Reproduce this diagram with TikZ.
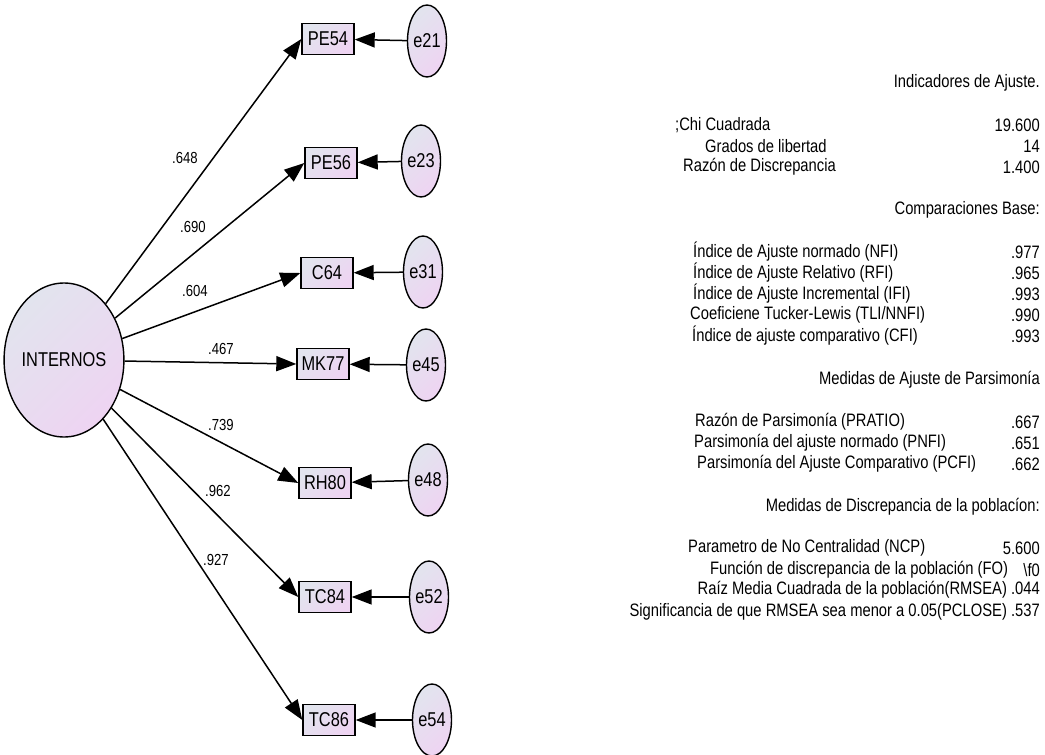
\documentclass[tikz,border=0pt]{standalone}
\usepackage{fontspec}
\setmainfont{Liberation Sans}[FakeStretch=0.82]
\usepackage{xcolor}
\usepackage{tikz}
\usetikzlibrary{arrows.meta, shapes.geometric}

\definecolor{semA}{RGB}{226,228,238}
\definecolor{semB}{RGB}{238,212,242}

\begin{document}
\begin{tikzpicture}[x=1pt, y=-1pt, >={Triangle[length=20pt, width=15pt]},
  lat/.style = {ellipse, draw, line width=1.4pt, inner sep=0pt,
                minimum width=108, minimum height=154,
                top color=semA, bottom color=semB, shading angle=45,
                font=\fontsize{20}{22}\selectfont},
  obs/.style = {rectangle, draw, line width=1.4pt, inner sep=0pt,
                minimum width=52, minimum height=31,
                top color=semA, bottom color=semB, shading angle=45,
                font=\fontsize{20}{22}\selectfont},
  err/.style = {ellipse, draw, line width=1.4pt, inner sep=0pt,
                minimum width=39, minimum height=72,
                top color=semA, bottom color=semB, shading angle=45,
                font=\fontsize{20}{22}\selectfont},
  lbl/.style = {inner sep=0pt, font=\fontsize{16}{18}\selectfont},
  row/.style = {inner sep=0pt, anchor=west, font=\fontsize{18}{21}\selectfont},
  val/.style = {inner sep=0pt, anchor=east, font=\fontsize{18}{21}\selectfont},
  arr/.style = {->, line width=1.5pt}
]
\useasboundingbox (0,0) rectangle (1045,755);

%% --- Latent factor ---
\node[lat] (internos) at (64,360) {INTERNOS};

%% --- Observed indicators ---
\node[obs] (pe54) at (328,39)  {PE54};
\node[obs] (pe56) at (331,163) {PE56};
\node[obs] (c64)  at (327,273) {C64};
\node[obs] (mk77) at (323,364) {MK77};
\node[obs] (rh80) at (325,483) {RH80};
\node[obs] (tc84) at (325,597) {TC84};
\node[obs] (tc86) at (329,720) {TC86};

%% --- Error terms ---
\node[err] (e21) at (427,41)  {e21};
\node[err] (e23) at (421,161) {e23};
\node[err] (e31) at (423,272) {e31};
\node[err] (e45) at (426,365) {e45};
\node[err] (e48) at (428,480) {e48};
\node[err] (e52) at (429,597) {e52};
\node[err] (e54) at (432,720) {e54};

%% --- Loadings ---
\draw[arr] (internos) -- (pe54.west);
\draw[arr] (internos) -- (pe56.west);
\draw[arr] (internos) -- (c64.west);
\draw[arr] (internos) -- (mk77.west);
\draw[arr] (internos) -- (rh80.west);
\draw[arr] (internos) -- (tc84.west);
\draw[arr] (internos) -- (tc86.west);

\node[lbl] (l648) at (185,158) {.648};
\node[lbl] (l690) at (193,227) {.690};
\node[lbl] (l604) at (195,291) {.604};
\node[lbl] (l467) at (221,349) {.467};
\node[lbl] (l739) at (221,425) {.739};
\node[lbl] (l962) at (218,491) {.962};
\node[lbl] (l927) at (216,560) {.927};

%% --- Error paths ---
\draw[arr] (e21) -- (pe54);
\draw[arr] (e23) -- (pe56);
\draw[arr] (e31) -- (c64);
\draw[arr] (e45) -- (mk77);
\draw[arr] (e48) -- (rh80);
\draw[arr] (e52) -- (tc84);
\draw[arr] (e54) -- (tc86);

%% --- Fit indices ---
\node[val] (hdrAjuste) at (1040,83) {Indicadores de Ajuste.};
\node[row] (chi)   at (675,125) {;Chi Cuadrada};
\node[val] (chiV)  at (1040,125) {19.600};
\node[row] (gl)    at (705,146) {Grados de libertad};
\node[val] (glV)   at (1040,146) {14};
\node[row] (rd)    at (683,167) {Razón de Discrepancia};
\node[val] (rdV)   at (1040,167) {1.400};

\node[val] (hdrBase) at (1040,210) {Comparaciones Base:};
\node[row] (nfi)   at (693,252) {Índice de Ajuste normado (NFI)};
\node[val] (nfiV)  at (1040,252) {.977};
\node[row] (rfi)   at (693,273) {Índice de Ajuste Relativo (RFI)};
\node[val] (rfiV)  at (1040,273) {.965};
\node[row] (ifi)   at (693,294) {Índice de Ajuste Incremental (IFI)};
\node[val] (ifiV)  at (1040,294) {.993};
\node[row] (tli)   at (690,315) {Coeficiene Tucker-Lewis (TLI/NNFI)};
\node[val] (tliV)  at (1040,315) {.990};
\node[row] (cfi)   at (692,336) {Índice de ajuste comparativo (CFI)};
\node[val] (cfiV)  at (1040,336) {.993};

\node[val] (hdrPars) at (1040,380) {Medidas de Ajuste de Parsimonía};
\node[row] (prat)  at (695,422) {Razón de Parsimonía (PRATIO)};
\node[val] (pratV) at (1040,422) {.667};
\node[row] (pnfi)  at (694,443) {Parsimonía del ajuste normado (PNFI)};
\node[val] (pnfiV) at (1040,443) {.651};
\node[row] (pcfi)  at (697,464) {Parsimonía del Ajuste Comparativo (PCFI)};
\node[val] (pcfiV) at (1040,464) {.662};

\node[val] (hdrPob) at (1040,507) {Medidas de Discrepancia de la poblacíon:};
\node[row] (ncp)   at (688,548) {Parametro de No Centralidad (NCP)};
\node[val] (ncpV)  at (1040,548) {5.600};
\node[row] (fo)    at (710,570) {Función de discrepancia de la población (FO)};
\node[val] (foV)   at (1040,570) {\textbackslash f0};
\node[val] (rmsea) at (1040,590) {Raíz Media Cuadrada de la población(RMSEA) .044};
\node[val] (pclose) at (1040,612) {Significancia de que RMSEA sea menor a 0.05(PCLOSE) .537};
\end{tikzpicture}
\end{document}
